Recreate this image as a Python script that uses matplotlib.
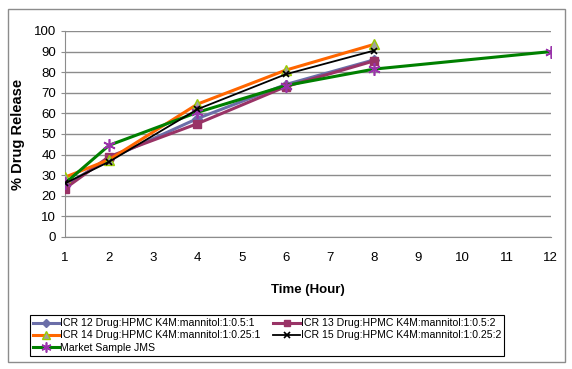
import numpy as np
import matplotlib.pyplot as plt
from matplotlib.patches import Rectangle

plt.rcParams['font.family'] = ['Liberation Sans', 'DejaVu Sans']

hours_icr = [1, 2, 4, 6, 8]
hours_jms = [1, 2, 4, 6, 8, 12]

icr12 = [25, 38, 57.5, 74, 86]
icr13 = [23.5, 39, 55, 73, 85.5]
icr14 = [29, 37.5, 64.5, 81, 93.5]
icr15 = [26, 36.5, 62, 79, 90.5]
jms = [26, 44.5, 60.5, 73.5, 81.5, 90]

labels = ["ICR 12 Drug:HPMC K4M:mannitol:1:0.5:1",
          "ICR 13 Drug:HPMC K4M:mannitol:1:0.5:2",
          "ICR 14 Drug:HPMC K4M:mannitol:1:0.25:1",
          "ICR 15 Drug:HPMC K4M:mannitol:1:0.25:2",
          "Market Sample JMS"]

fig = plt.figure(figsize=(5.72, 3.69), dpi=100)
ax = fig.add_axes([0.1136, 0.358, 0.8494, 0.558])

# outer chart frame
fig.patches.append(Rectangle((8/572, 1 - 362/369), 557/572, 353/369, transform=fig.transFigure,
                             fill=False, edgecolor="#8c8c8c", linewidth=1.0))

h12, = ax.plot(hours_icr, icr12, color="#6b6ea8", linewidth=2.2, marker="D", markersize=5,
               markerfacecolor="#6b6ea8", markeredgecolor="#6b6ea8", label=labels[0], zorder=3)
h13, = ax.plot(hours_icr, icr13, color="#993366", linewidth=2.2, marker="s", markersize=6,
               markerfacecolor="#993366", markeredgecolor="#993366", label=labels[1], zorder=3)
h14, = ax.plot(hours_icr, icr14, color="#ff6600", linewidth=2.2, marker="^", markersize=7,
               markerfacecolor="#a0a0a0", markeredgecolor="#99cc00", label=labels[2], zorder=3)
h15, = ax.plot(hours_icr, icr15, color="black", linewidth=1.3, marker="x", markersize=5,
               markeredgewidth=1.2, label=labels[3], zorder=4)
hj, = ax.plot(hours_jms, jms, color="#008000", linewidth=2.2, marker=(6, 2, 0), markersize=9,
              markeredgecolor="#9933aa", markeredgewidth=1.2, label=labels[4], zorder=3)

ax.set_xlim(1, 12)
ax.set_ylim(0, 100)
ax.set_xticks(range(1, 13))
ax.set_yticks(range(0, 101, 10))
ax.yaxis.grid(True, color="#8c8c8c", linewidth=1.0)
ax.set_axisbelow(True)
for s in ["top", "right"]:
    ax.spines[s].set_visible(False)
ax.spines["left"].set_color("#8c8c8c")
ax.spines["bottom"].set_color("#8c8c8c")
ax.tick_params(axis="both", labelsize=9.5, length=3, color="#8c8c8c")
ax.tick_params(axis="x", length=0, pad=11)

ax.set_xlabel("Time (Hour)", fontsize=9.5, fontweight="bold", labelpad=14)
ax.set_ylabel("% Drug Release", fontsize=10.5, fontweight="bold", labelpad=6)

# row-major order like the original legend
handles = [h12, h14, hj, h13, h15]
leg = fig.legend(handles, [h.get_label() for h in handles], loc="center",
                 bbox_to_anchor=(0.467, 0.091), ncol=2, fontsize=7.6,
                 frameon=True, fancybox=False, edgecolor="black", framealpha=1,
                 handlelength=2.5, handletextpad=0.1, columnspacing=1.2,
                 labelspacing=0.2, borderpad=0.3, markerscale=0.8)
leg.get_frame().set_linewidth(0.8)

fig.savefig("out.png", dpi=100)
